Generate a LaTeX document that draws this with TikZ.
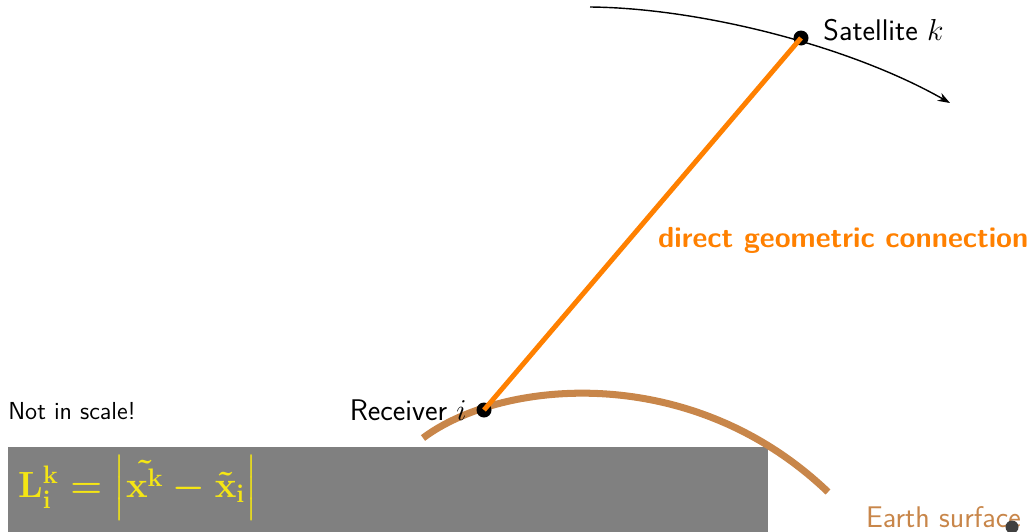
\documentclass[tikz,border=0pt]{standalone}
\usepackage{tikz}
\usetikzlibrary{arrows.meta, positioning}
\usepackage{amsmath}
\definecolor{linkorange}{HTML}{FF8000}
\definecolor{earthbrown}{HTML}{C8864A}
\definecolor{eqyellow}{HTML}{F5E614}
\tikzset{
  dotnode/.style={circle, fill=black, inner sep=0pt, minimum size=0.3cm},
  lbl/.style={font=\fontsize{17}{20}\selectfont\sffamily, inner sep=1pt},
  conn/.style={line width=2.8pt, draw=linkorange},
  orbit/.style={-{Stealth[length=7pt, width=5pt]}, thick},
  earth/.style={line width=4pt, draw=earthbrown},
}

\begin{document}
\begin{tikzpicture}[x=0.02cm, y=-0.02cm]
  \useasboundingbox (0,0) rectangle (1031,531);

  % info box
  \node[rectangle, fill=gray, minimum width=15.2cm, minimum height=1.74cm,
        anchor=north west, inner sep=0pt] (box) at (8,447) {};
  \node[anchor=west, text=eqyellow, font=\huge] (eq) at (12,488)
    {$\boldsymbol{\mathbf{L_i^k} = \left|\tilde{\mathbf{x}^{\mathbf{k}}} - \tilde{\mathbf{x}}_{\mathbf{i}}\right|}$};
  \node[font=\fontsize{14}{17}\selectfont\sffamily, anchor=west, inner sep=0pt] (note) at (8,411) {Not in scale!};

  % earth and orbit
  \coordinate (earthA) at (423,438);
  \coordinate (earthB) at (828,492);
  \draw[earth] (earthA) .. controls (500,380) and (690,360) .. (earthB);
  \node[lbl, text=earthbrown, anchor=west] (earthlbl) at (864,517) {Earth surface};

  \coordinate (orbA) at (590,7);
  \coordinate (orbB) at (950,103);
  \draw[orbit] (orbA) .. controls (700,8) and (850,46) .. (orbB);

  % receiver and satellite
  \node[dotnode] (rcv) at (484,410) {};
  \node[dotnode] (sat) at (801,38) {};
  \node[lbl, left=0.15cm of rcv] (rcvlbl) {Receiver $i$};
  \node[lbl, right=0.25cm of sat, yshift=0.16cm] (satlbl) {Satellite $k$};

  \draw[conn] (rcv.center) -- (sat.center);
  \node[font=\fontsize{16.5}{20}\selectfont\sffamily\bfseries, text=linkorange, anchor=west] (connlbl) at (652,240)
    {direct geometric connection};

  \node[circle, fill=black!75, inner sep=0pt, minimum size=0.26cm] (blob) at (1012,527) {};
\end{tikzpicture}
\end{document}
